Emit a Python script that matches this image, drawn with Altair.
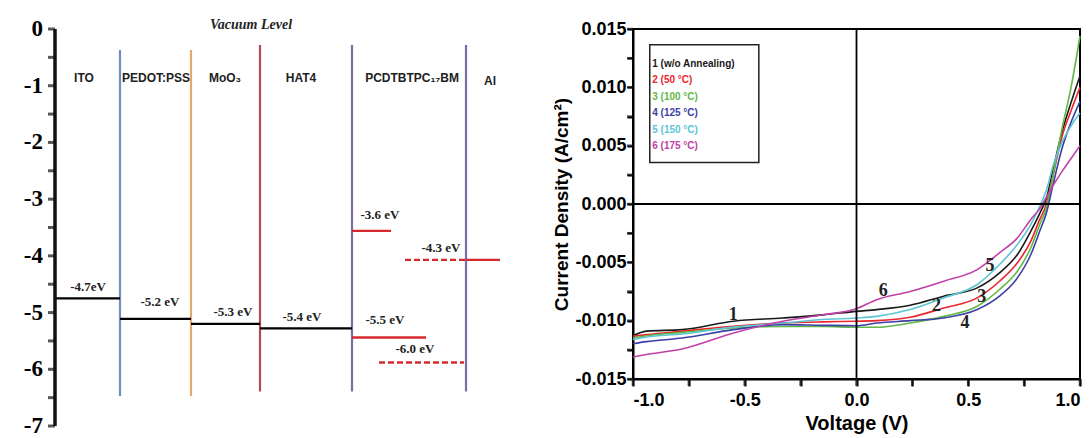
import altair as alt
import pandas as pd

# ---------------- Left panel: energy level diagram ----------------
layer_names = ["ITO", "PEDOT:PSS", "MoO₃", "HAT4", "PCDTBTPC₁₇BM", "Al"]
name_x = [0.58, 2.02, 3.4, 4.92, 7.14, 8.7]
name_y = [-0.86, -0.86, -0.86, -0.86, -0.86, -0.92]

bound_x = [1.3, 2.72, 4.1, 5.94, 8.22]
bound_top = [-0.37, -0.37, -0.28, -0.28, -0.28]
bound_bottom = [-6.47, -6.47, -6.39, -6.39, -6.39]
bound_color = ["#6f8fc0", "#e2a86c", "#b24a5c", "#7d6aa8", "#7d6aa8"]

black_x1 = [0.0, 1.3, 2.72, 4.1]
black_x2 = [1.3, 2.72, 4.1, 5.94]
black_y = [-4.75, -5.11, -5.2, -5.28]

red_solid_x1 = [5.94, 5.94, 8.22]
red_solid_x2 = [6.72, 7.42, 8.9]
red_solid_y = [-3.56, -5.44, -4.07]

red_dash_x1 = [6.48, 7.0]
red_dash_x2 = [8.18, 8.22]
red_dash_y = [-5.88, -4.07]

level_text = ["-4.7eV", "-5.2 eV", "-5.3 eV", "-5.4 eV", "-3.6 eV", "-4.3 eV", "-5.5 eV", "-6.0 eV"]
level_text_x = [0.66, 2.1, 3.56, 4.94, 6.5, 7.72, 6.6, 7.2]
level_text_y = [-4.55, -4.82, -4.99, -5.08, -3.28, -3.86, -5.13, -5.65]

vacuum_label = ["Vacuum Level"]
vacuum_x = [3.92]
vacuum_y = [0.07]

left_tick_values = [-0.5 * i for i in range(15)]
left_label_values = [0, -1, -2, -3, -4, -5, -6, -7]
left_label_text = ["0", "-1", "-2", "-3", "-4", "-5", "-6", "-7"]

# ---------------- Right panel: J-V curves ----------------
voltage = [-1.0, -0.94, -0.78, -0.55, -0.33, -0.15, 0.0, 0.09, 0.24, 0.39,
           0.54, 0.64, 0.72, 0.78, 0.82, 0.85, 0.88, 0.92, 0.96, 1.0]
j1 = [-0.0113, -0.0109, -0.01077, -0.01005, -0.00977, -0.0095, -0.0092, -0.00905, -0.00868, -0.0079,
      -0.00719, -0.0059, -0.00433, -0.00232, -0.0008, 0.0005, 0.0030, 0.0062, 0.0087, 0.0110]
j2 = [-0.01134, -0.0112, -0.0109, -0.01048, -0.0102, -0.0101, -0.01005, -0.0100, -0.00971, -0.00891,
      -0.00805, -0.00662, -0.00504, -0.00318, -0.00132, 0.0000, 0.0025, 0.0058, 0.0080, 0.0100]
j3 = [-0.01149, -0.0113, -0.0110, -0.01063, -0.0105, -0.0105, -0.01057, -0.01057, -0.0102, -0.00963,
      -0.00877, -0.00733, -0.00576, -0.00375, -0.00175, -0.0003, 0.0025, 0.0065, 0.0100, 0.0144]
j4 = [-0.01198, -0.0118, -0.01149, -0.01077, -0.01034, -0.0104, -0.01043, -0.0102, -0.0100, -0.00977,
      -0.00905, -0.0079, -0.00633, -0.00433, -0.00232, -0.00075, 0.0017, 0.0048, 0.0070, 0.0088]
j5 = [-0.01163, -0.0114, -0.01114, -0.01055, -0.0102, -0.0099, -0.00977, -0.00963, -0.00905, -0.00805,
      -0.0069, -0.00519, -0.00347, -0.00175, -0.00017, 0.0012, 0.0033, 0.0053, 0.0067, 0.0078]
j6 = [-0.01312, -0.0129, -0.01243, -0.01106, -0.01005, -0.0095, -0.00897, -0.0082, -0.0075, -0.00662,
      -0.00562, -0.00418, -0.0029, -0.00132, -0.0004, 0.0006, 0.0016, 0.0028, 0.0039, 0.0050]

series_ids = ["1", "2", "3", "4", "5", "6"]
series_legend = ["1 (w/o Annealing)", "2 (50 °C)", "3 (100 °C)", "4 (125 °C)", "5 (150 °C)", "6 (175 °C)"]
series_colors = ["#1a1a1a", "#e8262d", "#62b846", "#3b3fa6", "#5cc6d6", "#c040a8"]

curve_label_x = [-0.552, 0.358, 0.560, 0.485, 0.597, 0.12]
curve_label_y = [-0.00948, -0.00876, -0.00799, -0.0102, -0.00533, -0.00748]

legend_box = {"x1": [-0.925], "x2": [-0.437], "y1": [0.01366], "y2": [0.00355]}
legend_text_x = -0.914
legend_text_y = [0.0120, 0.01062, 0.00919, 0.00776, 0.00632, 0.00498]

x_ticks = [-1 + 0.25 * i for i in range(9)]
y_ticks = [-0.015 + 0.0025 * i for i in range(13)]

# ---------------- Build left chart ----------------
xs = alt.Scale(domain=[0, 9], nice=False)
ys = alt.Scale(domain=[-7, 0], nice=False)


def X(f):
    return alt.X(f, scale=xs, axis=None)


def Y(f):
    return alt.Y(f, scale=ys, axis=None)


df_bound = pd.DataFrame({"x": bound_x, "top": bound_top, "bottom": bound_bottom, "c": bound_color})
df_black = pd.DataFrame({"x1": black_x1, "x2": black_x2, "y": black_y})
df_rs = pd.DataFrame({"x1": red_solid_x1, "x2": red_solid_x2, "y": red_solid_y})
df_rd = pd.DataFrame({"x1": red_dash_x1, "x2": red_dash_x2, "y": red_dash_y})
df_lt = pd.DataFrame({"t": level_text, "x": level_text_x, "y": level_text_y})
df_names = pd.DataFrame({"t": layer_names, "x": name_x, "y": name_y})
df_vac = pd.DataFrame({"t": vacuum_label, "x": vacuum_x, "y": vacuum_y})
df_laxis = pd.DataFrame({"x": [0.0], "y1": [left_label_values[-1]], "y2": [left_label_values[0]]})
df_lticks = pd.DataFrame({"x": [0.0] * len(left_tick_values), "y": left_tick_values})
df_llabels = pd.DataFrame({"x": [0.0] * len(left_label_values), "y": left_label_values, "t": left_label_text})

bounds_layer = alt.Chart(df_bound).mark_rule(strokeWidth=2.2).encode(
    x=X("x:Q"), y=Y("top:Q"), y2="bottom:Q",
    color=alt.Color("c:N", scale=None),
)
black_layer = alt.Chart(df_black).mark_rule(strokeWidth=2.2, color="black").encode(
    x=X("x1:Q"), x2="x2:Q", y=Y("y:Q"))
rs_layer = alt.Chart(df_rs).mark_rule(strokeWidth=2.4, color="#d42a2e").encode(
    x=X("x1:Q"), x2="x2:Q", y=Y("y:Q"))
rd_layer = alt.Chart(df_rd).mark_rule(strokeWidth=2.4, color="#d42a2e", strokeDash=[6, 3]).encode(
    x=X("x1:Q"), x2="x2:Q", y=Y("y:Q"))
lt_layer = alt.Chart(df_lt).mark_text(font="Liberation Serif", fontSize=13, fontWeight="bold",
                                      color="#222").encode(
    x=X("x:Q"), y=Y("y:Q"), text="t:N")
names_layer = alt.Chart(df_names).mark_text(font="Liberation Sans Narrow, Liberation Sans", fontSize=12,
                                            fontWeight="bold", color="#222").encode(
    x=X("x:Q"), y=Y("y:Q"), text="t:N")
vac_layer = alt.Chart(df_vac).mark_text(font="Liberation Serif", fontSize=14, fontWeight="bold",
                                        fontStyle="italic", color="#222").encode(
    x=X("x:Q"), y=Y("y:Q"), text="t:N")
laxis_layer = alt.Chart(df_laxis).mark_rule(strokeWidth=3.5, color="#111").encode(
    x=X("x:Q"), y=Y("y1:Q"), y2="y2:Q")
lticks_layer = alt.Chart(df_lticks).mark_tick(orient="horizontal", size=7, thickness=3, color="#111",
                                              xOffset=-3.5).encode(
    x=X("x:Q"), y=Y("y:Q"))
llabels_layer = alt.Chart(df_llabels).mark_text(align="right", baseline="middle", dx=-12,
                                                font="Liberation Serif", fontSize=23, fontWeight="bold",
                                                color="black").encode(
    x=X("x:Q"), y=Y("y:Q"), text="t:N")

left = alt.layer(bounds_layer, black_layer, rs_layer, rd_layer, lt_layer, names_layer, vac_layer,
                 laxis_layer, lticks_layer, llabels_layer).properties(
    width=450, height=397, view=alt.ViewBackground(strokeOpacity=0))

# ---------------- Build right chart ----------------
xr = alt.Scale(domain=[-1, 1], nice=False)
yr = alt.Scale(domain=[-0.015, 0.015], nice=False)

rows = []
for sid, js in zip(series_ids, [j1, j2, j3, j4, j5, j6]):
    for v, j in zip(voltage, js):
        rows.append({"s": sid, "V": v, "J": j})
df_curves = pd.DataFrame(rows)

axis_x = alt.Axis(
    values=x_ticks, title="Voltage (V)", grid=False,
    labelExpr="round(datum.value*4) % 2 == 0 ? (datum.value < 0 ? '-' : '') + format(abs(datum.value), '.1f') : ''",
    tickSize=7, tickWidth=2, tickColor="black", domainWidth=2, domainColor="black",
    labelFont="Liberation Sans", labelFontSize=18, labelFontWeight="bold", labelColor="black",
    labelPadding=5, titleFont="Liberation Sans", titleFontSize=20, titleFontWeight="bold",
    titleColor="black", titlePadding=4,
)
axis_y = alt.Axis(
    values=y_ticks, title="Current Density (A/cm²)", grid=False,
    labelExpr="round(datum.value*400) % 2 == 0 ? (datum.value < 0 ? '-' : '') + format(abs(datum.value), '.3f') : ''",
    tickSize=6, tickWidth=2, tickColor="black", domainWidth=2, domainColor="black",
    labelFont="Liberation Sans", labelFontSize=18, labelFontWeight="bold", labelColor="black",
    labelPadding=1, titleFont="Liberation Sans", titleFontSize=19, titleFontWeight="bold",
    titleColor="black", titlePadding=3,
)


def XR(f):
    return alt.X(f, scale=xr, axis=axis_x)


def YR(f):
    return alt.Y(f, scale=yr, axis=axis_y)


curves = alt.Chart(df_curves).mark_line(strokeWidth=1.6, interpolate="monotone").encode(
    x=XR("V:Q"),
    y=YR("J:Q"),
    color=alt.Color("s:N", scale=alt.Scale(domain=series_ids, range=series_colors), legend=None),
    order=alt.Order("V:Q"),
)
zero_v = alt.Chart(pd.DataFrame({"v": [0.0]})).mark_rule(color="black", strokeWidth=1.8).encode(
    x=XR("v:Q"))
zero_h = alt.Chart(pd.DataFrame({"j": [0.0]})).mark_rule(color="black", strokeWidth=1.8).encode(
    y=YR("j:Q"))

df_box = pd.DataFrame(legend_box)
box = alt.Chart(df_box).mark_rect(fill="white", fillOpacity=0, stroke="#222", strokeWidth=1.5).encode(
    x=XR("x1:Q"), x2="x2:Q", y=YR("y1:Q"), y2="y2:Q")

df_leg = pd.DataFrame({"t": series_legend, "c": series_colors, "y": legend_text_y,
                       "x": [legend_text_x] * len(series_legend)})
leg = alt.Chart(df_leg).mark_text(align="left", font="Liberation Sans", fontSize=10,
                                  fontWeight="bold").encode(
    x=XR("x:Q"), y=YR("y:Q"), text="t:N",
    color=alt.Color("c:N", scale=None))

df_cl = pd.DataFrame({"t": series_ids, "x": curve_label_x, "y": curve_label_y})
cl = alt.Chart(df_cl).mark_text(font="Liberation Serif", fontSize=18, fontWeight="bold",
                                color="#222").encode(
    x=XR("x:Q"), y=YR("y:Q"), text="t:N")

df_xt = pd.DataFrame({"x": x_ticks, "y": [-0.015] * len(x_ticks)})
df_yt = pd.DataFrame({"x": [-1.0] * len(y_ticks), "y": y_ticks})
xt = alt.Chart(df_xt).mark_tick(orient="vertical", size=7, thickness=2.6, color="#111", yOffset=3.5).encode(
    x=XR("x:Q"), y=YR("y:Q"))
yt = alt.Chart(df_yt).mark_tick(orient="horizontal", size=6, thickness=2.4, color="#111", xOffset=-3).encode(
    x=XR("x:Q"), y=YR("y:Q"))

right = alt.layer(curves, zero_v, zero_h, box, leg, cl, xt, yt).properties(
    width=447, height=350, view=alt.ViewBackground(stroke="black", strokeWidth=2))

chart = alt.hconcat(left, right, spacing=128, bounds="flush").properties(
    padding={"left": 23, "top": 18, "right": 2, "bottom": 0},
    background="white",
)

chart.save("out.html", embed_options={"renderer": "svg", "actions": False})
